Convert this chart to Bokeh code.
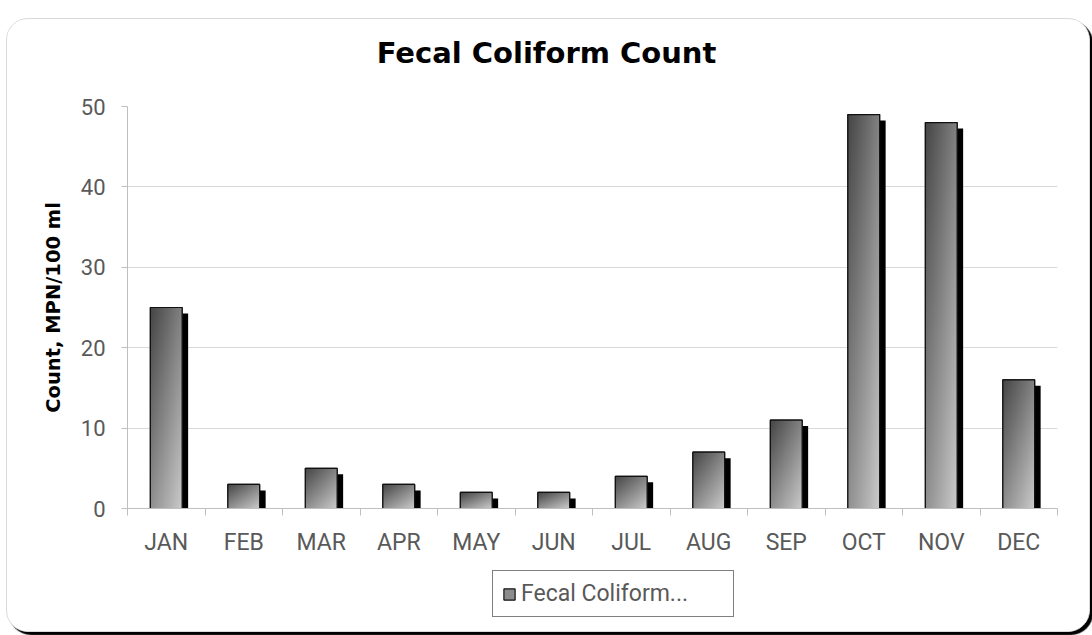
import numpy as np
from bokeh.plotting import figure
from bokeh.layouts import column
from bokeh.models import (ColumnDataSource, FixedTicker, Label, Legend,
                          LegendItem, Range1d)
from bokeh.embed import file_html
from bokeh.resources import INLINE

# Monthly fecal coliform counts (MPN/100 ml)
months = ["JAN", "FEB", "MAR", "APR", "MAY", "JUN",
          "JUL", "AUG", "SEP", "OCT", "NOV", "DEC"]
counts = [25, 3, 5, 3, 2, 2, 4, 7, 11, 49, 48, 16]
y_ticks = [0, 10, 20, 30, 40, 50]
title_text = "Fecal Coliform Count"
y_title = "Count, MPN/100 ml"
series_name = "Fecal Coliform..."

FONT = "Roboto"
BOLD_FONT = "DejaVu Sans"
TICK_GREY = "#595959"
AXIS_GREY = "#bfbfbf"
GRID_GREY = "#d9d9d9"
BAR_FILL = "#8c8c8c"
BAR_LINE = "#111111"

W = 1082
H_TOP, H_MAIN, H_LEG = 62, 483, 67
FRAME_L, FRAME_R = 120, 1050
FRAME_T, FRAME_B = 25, 427          # within the main figure
FRAME_W = FRAME_R - FRAME_L
BAR_W = 0.41

n = len(months)
centers = [i + 0.5 for i in range(n)]


def strip(height):
    """A plain white band; its frame lines up with the chart frame and
    uses pixel coordinates measured from the frame's left edge."""
    f = figure(width=W, height=height, x_range=Range1d(0, FRAME_W),
               y_range=Range1d(0, height), output_backend="svg",
               toolbar_location=None, min_border=0,
               min_border_left=FRAME_L, min_border_right=W - FRAME_R,
               x_axis_location=None, y_axis_location=None)
    f.grid.visible = False
    f.outline_line_color = None
    f.background_fill_color = "white"
    f.border_fill_color = "white"
    return f


# ---- title band ----
top = strip(H_TOP)
top.add_layout(Label(x=W / 2 - 2 - FRAME_L, y=29, text=title_text,
                     text_align="center", text_baseline="middle",
                     text_font=BOLD_FONT, text_font_size="29px",
                     text_font_style="bold", text_color="black"))

# ---- main chart ----
p = figure(width=W, height=H_MAIN,
           x_range=Range1d(0, n), y_range=Range1d(0, max(y_ticks)),
           output_backend="svg", toolbar_location=None,
           min_border_left=FRAME_L, min_border_right=W - FRAME_R,
           min_border_top=FRAME_T, min_border_bottom=H_MAIN - FRAME_B)
p.outline_line_color = None
p.background_fill_color = "white"
p.border_fill_color = "white"

# pixel sizes of the drop shadow converted to data units
px_x = n / FRAME_W
px_y = max(y_ticks) / (FRAME_B - FRAME_T)
dx, dy = 6 * px_x, 6 * px_y

src = ColumnDataSource(dict(
    x=centers,
    top=counts,
    left=[c - BAR_W / 2 for c in centers],
    sh_left=[c - BAR_W / 2 + dx for c in centers],
    sh_right=[c + BAR_W / 2 + dx for c in centers],
    sh_top=[v - dy for v in counts],
))

# drop shadow behind each bar
p.quad(left="sh_left", right="sh_right", bottom=0, top="sh_top",
       source=src, fill_color="black", line_color=None)

# base bar
p.vbar(x="x", top="top", bottom=0, width=BAR_W, source=src,
       fill_color=BAR_FILL, line_color=BAR_LINE, line_width=1.2)

# diagonal grey gradient fill, dark at top-left to light at bottom-right
GW, GH = 48, 200
u = np.linspace(0, 1, GW)[None, :]
v = np.linspace(0, 1, GH)[:, None]
t = 0.45 * u + 0.55 * (1 - v)
g = (0x46 + t * (0xcc - 0x46)).astype(np.uint8)
grad = np.empty((GH, GW), dtype=np.uint32)
rgba = grad.view(np.uint8).reshape(GH, GW, 4)
rgba[..., 0] = g
rgba[..., 1] = g
rgba[..., 2] = g
rgba[..., 3] = 255

img_src = ColumnDataSource(dict(
    image=[grad] * n,
    x=src.data["left"],
    y=[0] * n,
    dw=[BAR_W] * n,
    dh=counts,
))
p.image_rgba(image="image", x="x", y="y", dw="dw", dh="dh", source=img_src)

# crisp outline on top of the gradient
p.vbar(x="x", top="top", bottom=0, width=BAR_W, source=src,
       fill_color=None, line_color=BAR_LINE, line_width=1.2)

# x axis: labels at centers, tick marks at category boundaries
xa = p.xaxis[0]
xa.ticker = FixedTicker(ticks=centers, minor_ticks=list(range(n + 1)))
xa.major_label_overrides = {c: m for c, m in zip(centers, months)}
xa.major_tick_line_color = None
xa.major_tick_out = 0
xa.major_tick_in = 0
xa.minor_tick_line_color = AXIS_GREY
xa.minor_tick_out = 7
xa.minor_tick_in = 0
xa.axis_line_color = AXIS_GREY
xa.major_label_text_font = FONT
xa.major_label_text_font_size = "23px"
xa.major_label_text_color = TICK_GREY
xa.major_label_standoff = 13

# y axis
ya = p.yaxis[0]
ya.ticker = FixedTicker(ticks=y_ticks, minor_ticks=[])
ya.major_tick_line_color = AXIS_GREY
ya.major_tick_out = 6
ya.major_tick_in = 0
ya.minor_tick_line_color = None
ya.axis_line_color = AXIS_GREY
ya.major_label_text_font = FONT
ya.major_label_text_font_size = "22px"
ya.major_label_text_color = TICK_GREY
ya.major_label_standoff = 16
ya.axis_label = y_title
ya.axis_label_text_font = BOLD_FONT
ya.axis_label_text_font_size = "19.5px"
ya.axis_label_text_font_style = "bold"
ya.axis_label_text_color = "black"
ya.axis_label_standoff = 13

p.xgrid.grid_line_color = None
p.ygrid.grid_line_color = GRID_GREY
p.ygrid.grid_line_width = 1

# ---- legend band ----
leg = strip(H_LEG)
# swatch renderer parked far outside the visible range; only its legend glyph shows
swatch = leg.vbar(x=[-5000], top=[0], width=1, fill_color=BAR_FILL,
                  line_color=BAR_LINE, line_width=1.2)

legend = Legend(items=[LegendItem(label=series_name, renderers=[swatch])],
                location=(485 - FRAME_L, 14))
legend.border_line_color = "black"
legend.border_line_width = 1.5
legend.background_fill_color = "white"
legend.background_fill_alpha = 1
legend.label_text_font = FONT
legend.label_text_font_size = "23px"
legend.label_text_color = TICK_GREY
legend.glyph_width = 14
legend.glyph_height = 14
legend.label_height = 22
legend.label_width = 203
legend.label_standoff = 5
legend.padding = 9
legend.margin = 0
leg.add_layout(legend)

chart = column(top, p, leg, spacing=0)
chart.margin = (18, 0, 0, 6)
chart.styles = {"border": "1.5px solid #d9d9d9", "border-radius": "22px",
                "box-shadow": "3px 3px 1px #000000", "overflow": "hidden",
                "box-sizing": "border-box", "background": "white"}

open("out.html", "w").write(file_html(chart, INLINE))
